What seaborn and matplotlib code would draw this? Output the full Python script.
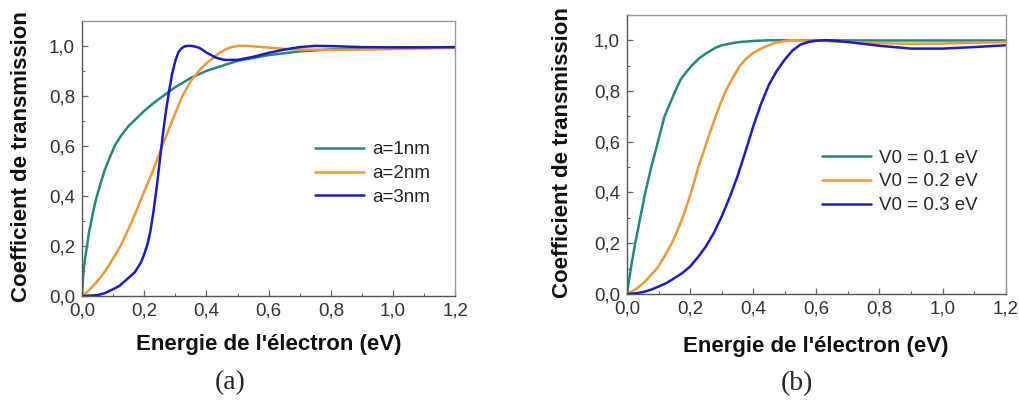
import pandas as pd
import matplotlib
matplotlib.use("Agg")
import matplotlib.pyplot as plt
from matplotlib.ticker import MultipleLocator, FuncFormatter
import seaborn as sns

# Panel (a): transmission for several barrier widths
a1_x = [0, 0.002, 0.005, 0.01, 0.016, 0.022, 0.03, 0.038, 0.048, 0.06, 0.072, 0.088, 0.105, 0.125, 0.15, 0.175,
        0.2, 0.225, 0.25, 0.3, 0.35, 0.4, 0.5, 0.6, 0.7, 0.8, 0.9, 1.0, 1.1, 1.2]
a1_y = [0, 0.05, 0.1, 0.15, 0.2, 0.25, 0.3, 0.35, 0.4, 0.45, 0.5, 0.55, 0.6, 0.64, 0.68, 0.71,
        0.74, 0.766, 0.79, 0.835, 0.872, 0.9, 0.94, 0.963, 0.978, 0.986, 0.99, 0.992, 0.994, 0.995]
a2_x = [0, 0.02, 0.043, 0.06, 0.075, 0.088, 0.1, 0.112, 0.124, 0.143, 0.161, 0.178, 0.194, 0.211, 0.228, 0.243,
        0.258, 0.274, 0.29, 0.306, 0.323, 0.35, 0.376, 0.4, 0.42, 0.44, 0.46, 0.48, 0.505, 0.53, 0.55, 0.6,
        0.65, 0.7, 0.8, 0.9, 1.0, 1.1, 1.2]
a2_y = [0, 0.02, 0.05, 0.075, 0.1, 0.125, 0.15, 0.175, 0.2, 0.25, 0.3, 0.35, 0.4, 0.45, 0.5, 0.55,
        0.6, 0.65, 0.7, 0.75, 0.8, 0.86, 0.9, 0.93, 0.95, 0.97, 0.985, 0.995, 1.0, 1.0, 0.998, 0.993,
        0.988, 0.985, 0.984, 0.985, 0.987, 0.99, 0.992]
a3_x = [0, 0.05, 0.075, 0.1, 0.12, 0.15, 0.17, 0.18, 0.19, 0.2, 0.21, 0.22, 0.23, 0.24, 0.25, 0.26, 0.27, 0.28,
        0.29, 0.3, 0.31, 0.32, 0.33, 0.34, 0.35, 0.36, 0.37, 0.38, 0.39, 0.4, 0.42, 0.43, 0.45, 0.46, 0.5,
        0.55, 0.6, 0.65, 0.7, 0.75, 0.8, 0.9, 1.0, 1.1, 1.2]
a3_y = [0, 0.003, 0.012, 0.027, 0.04, 0.073, 0.095, 0.115, 0.135, 0.167, 0.205, 0.26, 0.34, 0.433, 0.54, 0.647,
        0.74, 0.82, 0.89, 0.94, 0.975, 0.99, 0.998, 1.0, 1.0, 0.998, 0.995, 0.99, 0.982, 0.973, 0.96, 0.953,
        0.946, 0.944, 0.944, 0.956, 0.972, 0.985, 0.995, 1.0, 0.999, 0.995, 0.994, 0.994, 0.995]
labels_a = ["a=1nm", "a=2nm", "a=3nm"]

# Panel (b): transmission for several barrier heights
v1_x = [0, 0.006, 0.012, 0.026, 0.042, 0.058, 0.077, 0.098, 0.119, 0.153, 0.17, 0.185, 0.205, 0.23, 0.253,
        0.28, 0.3, 0.35, 0.4, 0.45, 0.6, 0.8, 1.0, 1.2]
v1_y = [0, 0.05, 0.1, 0.2, 0.3, 0.4, 0.5, 0.6, 0.7, 0.8, 0.845, 0.87, 0.9, 0.93, 0.95,
        0.97, 0.98, 0.992, 0.997, 1.0, 1.0, 0.999, 0.999, 0.999]
v2_x = [0, 0.03, 0.058, 0.095, 0.12, 0.142, 0.16, 0.176, 0.19, 0.203, 0.215, 0.226, 0.24, 0.253, 0.267, 0.281,
        0.296, 0.313, 0.33, 0.358, 0.38, 0.4, 0.43, 0.47, 0.5, 0.52, 0.6, 0.7, 0.8, 0.9, 1.0, 1.1, 1.2]
v2_y = [0, 0.02, 0.05, 0.1, 0.15, 0.2, 0.25, 0.3, 0.35, 0.4, 0.45, 0.5, 0.55, 0.6, 0.65, 0.7,
        0.75, 0.8, 0.84, 0.9, 0.93, 0.95, 0.97, 0.99, 0.997, 1.0, 0.998, 0.993, 0.988, 0.986, 0.987, 0.99, 0.993]
v3_x = [0, 0.025, 0.05, 0.075, 0.1, 0.125, 0.15, 0.175, 0.2, 0.225, 0.25, 0.275, 0.3, 0.325, 0.35, 0.375,
        0.4, 0.425, 0.45, 0.475, 0.5, 0.525, 0.55, 0.575, 0.6, 0.632, 0.7, 0.8, 0.9, 1.0, 1.1, 1.2]
v3_y = [0, 0.002, 0.007, 0.016, 0.029, 0.043, 0.062, 0.082, 0.108, 0.145, 0.187, 0.24, 0.305, 0.38, 0.463, 0.56,
        0.66, 0.75, 0.825, 0.88, 0.924, 0.96, 0.983, 0.993, 0.998, 1.0, 0.993, 0.978, 0.967, 0.967, 0.973, 0.98]
labels_b = ["V0 = 0.1 eV", "V0 = 0.2 eV", "V0 = 0.3 eV"]

colors = ["#23877d", "#eb9a37", "#1c1cc0"]

sns.set_style("ticks")
plt.rcParams['font.family'] = ['Liberation Sans', 'DejaVu Sans']

fig = plt.figure(figsize=(10.2, 4.01), dpi=100)
ax_a = fig.add_axes([0.0804, 0.262, 0.366, 0.686])
ax_b = fig.add_axes([0.6147, 0.267, 0.3713, 0.696])

comma = FuncFormatter(lambda v, p: f"{v:.1f}".replace(".", ","))

def draw(ax, xs, ys, labels, leg_x, leg_y, xl_y, yl_x):
    for x, y, lab, c in zip(xs, ys, labels, colors):
        df = pd.DataFrame({"E": x, "T": y})
        sns.lineplot(data=df, x="E", y="T", ax=ax, color=c, lw=1.8, label=lab, estimator=None)
    ax.set_xlim(0, 1.2)
    ax.set_ylim(0, 1.1)
    ax.xaxis.set_major_locator(MultipleLocator(0.2))
    ax.xaxis.set_minor_locator(MultipleLocator(0.1))
    ax.yaxis.set_major_locator(MultipleLocator(0.2))
    ax.yaxis.set_minor_locator(MultipleLocator(0.1))
    ax.xaxis.set_major_formatter(comma)
    ax.yaxis.set_major_formatter(comma)
    ax.tick_params(which="major", direction="in", length=4, width=0.9, color="#666666",
                   labelsize=13.5, labelcolor="#333333", pad=5)
    ax.tick_params(which="minor", direction="in", length=2.5, width=0.8, color="#666666")
    for s in ["left", "bottom"]:
        ax.spines[s].set_color("#555555")
        ax.spines[s].set_linewidth(1.0)
    for s in ["top", "right"]:
        ax.spines[s].set_color("#999999")
        ax.spines[s].set_linewidth(1.0)
    ax.set_xlabel("Energie de l'électron (eV)", fontsize=16, fontweight="bold", color="#111111")
    ax.set_ylabel("Coefficient de transmission", fontsize=16, fontweight="bold", color="#111111")
    ax.xaxis.set_label_coords(0.499, xl_y)
    ax.xaxis.label.set_va("center")
    ax.yaxis.set_label_coords(yl_x, 0.505)
    ax.yaxis.label.set_va("center")
    ax.legend(loc="upper left", bbox_to_anchor=(leg_x, leg_y), frameon=False, fontsize=13.5,
              handlelength=2.6, handletextpad=0.45, labelspacing=0.35, borderpad=0, borderaxespad=0)

draw(ax_a, [a1_x, a2_x, a3_x], [a1_y, a2_y, a3_y], labels_a, 0.625, 0.562, -0.178, -0.161)
draw(ax_b, [v1_x, v2_x, v3_x], [v1_y, v2_y, v3_y], labels_b, 0.515, 0.517, -0.19, -0.169)

fig.text(230 / 1020, 1 - 383 / 401, "(a)", fontsize=20, family=["Liberation Serif", "DejaVu Serif"],
         ha="center", va="center")
fig.text(797 / 1020, 1 - 384 / 401, "(b)", fontsize=20, family=["Liberation Serif", "DejaVu Serif"],
         ha="center", va="center")

plt.savefig("out.png", dpi=100)
